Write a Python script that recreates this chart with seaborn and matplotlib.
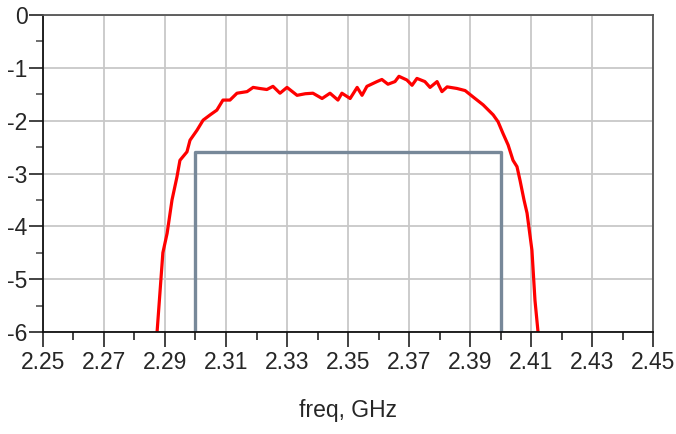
import pandas as pd
import seaborn as sns
import matplotlib.pyplot as plt
from matplotlib.ticker import MultipleLocator

freq = [2.2874, 2.2893, 2.2907, 2.2923, 2.2939, 2.2949, 2.2972, 2.2982, 2.3005,
        2.3025, 2.3048, 2.3070, 2.3090, 2.3113, 2.3136, 2.3169, 2.3189, 2.3210,
        2.3234, 2.3254, 2.3277, 2.3300, 2.3333, 2.3360, 2.3385, 2.3415, 2.3441,
        2.3467, 2.3480, 2.3507, 2.3530, 2.3546, 2.3562, 2.3595, 2.3611, 2.3631,
        2.3654, 2.3667, 2.3693, 2.3710, 2.3726, 2.3752, 2.3769, 2.3792, 2.3808,
        2.3825, 2.3857, 2.3884, 2.3910, 2.3943, 2.3976, 2.3992, 2.4008, 2.4025,
        2.4041, 2.4054, 2.4064, 2.4077, 2.4087, 2.4103, 2.4113, 2.4123]
s21 = [-6.0, -4.5, -4.13, -3.5, -3.07, -2.75, -2.59, -2.37, -2.18,
       -1.99, -1.89, -1.80, -1.61, -1.61, -1.48, -1.45, -1.37, -1.39,
       -1.41, -1.35, -1.48, -1.37, -1.52, -1.49, -1.48, -1.58, -1.48,
       -1.61, -1.48, -1.58, -1.37, -1.52, -1.35, -1.26, -1.22, -1.31,
       -1.26, -1.16, -1.23, -1.33, -1.20, -1.26, -1.37, -1.26, -1.45,
       -1.36, -1.39, -1.43, -1.55, -1.70, -1.89, -2.02, -2.24, -2.46,
       -2.75, -2.87, -3.13, -3.50, -3.75, -4.45, -5.40, -6.0]

# Spec mask
mask_x = [2.30, 2.30, 2.40, 2.40]
mask_y = [-6.0, -2.6, -2.6, -6.0]

sns.set_style('white')
plt.rcParams['font.family'] = ['Liberation Sans Narrow', 'Liberation Sans', 'DejaVu Sans']

fig = plt.figure(figsize=(6.76, 4.34), dpi=100)
ax = fig.add_axes([0.0636, 0.235, 0.9024, 0.7304])

df = pd.DataFrame({'freq': freq, 's21': s21})
mask = pd.DataFrame({'freq': mask_x, 's21': mask_y})
sns.lineplot(data=mask, x='freq', y='s21', sort=False, estimator=None,
             color='#778899', lw=2.4, ax=ax)
sns.lineplot(data=df, x='freq', y='s21', sort=False, estimator=None,
             color='#ff0000', lw=2.3, ax=ax)

ax.set_xlim(2.25, 2.45)
ax.set_ylim(-6, 0)
ax.xaxis.set_minor_locator(MultipleLocator(0.01))
ax.yaxis.set_minor_locator(MultipleLocator(0.5))
ax.set_xticks([2.25 + 0.02 * i for i in range(11)])
ax.set_xticklabels([f'{2.25 + 0.02 * i:.2f}' for i in range(11)])
ax.set_yticks(range(-6, 1))
ax.set_yticklabels(['-6', '-5', '-4', '-3', '-2', '-1', '0'])

ax.grid(True, which='major', color='#c8c8c8', lw=1.3)
ax.tick_params(axis='x', which='major', direction='out', length=11, width=1.2,
               labelsize=16.5, pad=3, bottom=True, color='#222222')
ax.tick_params(axis='x', which='minor', direction='out', length=6, width=1.2,
               bottom=True, color='#222222')
ax.tick_params(axis='y', which='major', direction='out', length=10, width=1.2,
               labelsize=16.5, pad=1, left=True, color='#222222')
ax.tick_params(axis='y', which='minor', direction='out', length=5, width=1.2,
               left=True, color='#555555')

for s in ['left', 'bottom']:
    ax.spines[s].set_color('#111111')
    ax.spines[s].set_linewidth(1.3)
for s in ['top', 'right']:
    ax.spines[s].set_color('#555555')
    ax.spines[s].set_linewidth(1.3)

ax.set_xlabel('freq, GHz', fontsize=16.5, labelpad=18)
ax.set_ylabel('')

plt.savefig('out.png', dpi=100)
